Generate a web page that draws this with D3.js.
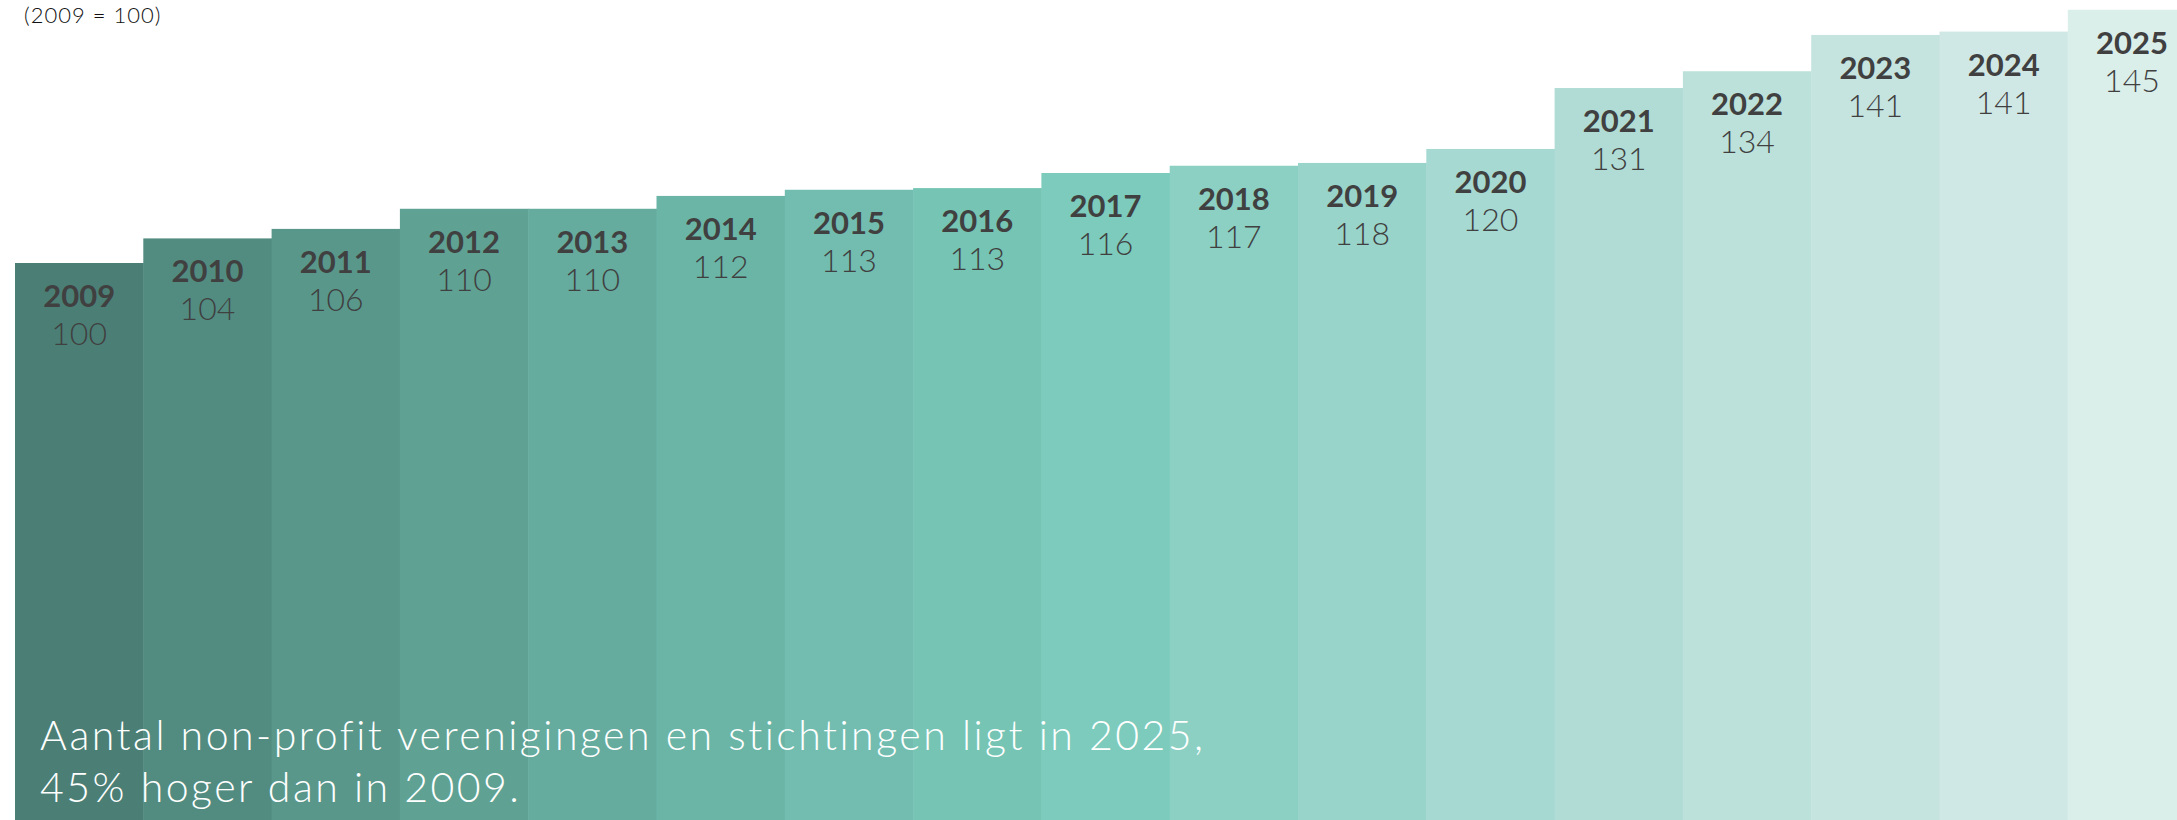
<!DOCTYPE html>
<html>
<head>
<meta charset="utf-8">
<script src="https://cdn.jsdelivr.net/npm/d3@7"></script>
<style>
  body { margin: 0; background: #fff; }
  svg { display: block; }
  .year { font-family: Lato, "Open Sans", sans-serif; font-weight: 700; fill: #404040; }
  .value { font-family: Lato, "Open Sans", sans-serif; font-weight: 300; fill: #404040; }
  .note { font-family: Lato, "Open Sans", sans-serif; font-weight: 300; fill: #fff; }
</style>
</head>
<body>
<div class="chart"></div>
<script>
// index, 2009 = 100 (labels are rounded)
const years = ["2009","2010","2011","2012","2013","2014","2015","2016","2017",
               "2018","2019","2020","2021","2022","2023","2024","2025"];
const indexValues = [100, 104.4, 106.1, 109.7, 109.7, 112.0, 113.1, 113.4, 116.1,
                     117.4, 117.9, 120.4, 131.3, 134.3, 140.8, 141.4, 145.3];
const barColors = ["#4b7f76","#528c81","#59978b","#5fa293","#65ab9e","#6bb5a7","#72bdb0",
                   "#75c4b4","#7ccbbc","#8bd0c3","#99d4ca","#a6d9d2","#b1dcd5","#bce1da",
                   "#c6e4df","#d0e8e5","#daeeea"];
const subtitle = "(2009 = 100)";
const noteLines = ["Aantal non-profit verenigingen en stichtingen ligt in 2025,",
                   "45% hoger dan in 2009."];

let width = 2177, height = 820;
let baseline = 822;

let svg = d3.select(".chart")
            .append("svg")
            .attr("width", width)
            .attr("height", height);

let x = d3.scaleBand()
          .domain(years)
          .range([15, 15 + 128.3 * years.length])
          .padding(0);

let y = d3.scaleLinear()
          .domain([0, 100])
          .range([baseline, baseline - 559]);

let data = years.map((yr, i) => ({year: yr, value: indexValues[i], color: barColors[i]}));

let bars = svg.append("g").attr("class", "bars");
bars.selectAll("rect")
    .data(data)
    .enter()
    .append("rect")
    .attr("x", d => x(d.year))
    .attr("y", d => y(d.value))
    .attr("width", x.bandwidth() + 0.5)
    .attr("height", d => baseline - y(d.value))
    .attr("fill", d => d.color);

let labels = svg.append("g").attr("class", "labels");
labels.selectAll("text.year")
      .data(data)
      .enter()
      .append("text")
      .attr("class", "year")
      .attr("x", d => x(d.year) + x.bandwidth() / 2)
      .attr("y", d => y(d.value) + 44)
      .attr("text-anchor", "middle")
      .style("font-size", "31px")
      .text(d => d.year);
labels.selectAll("text.value")
      .data(data)
      .enter()
      .append("text")
      .attr("class", "value")
      .attr("x", d => x(d.year) + x.bandwidth() / 2)
      .attr("y", d => y(d.value) + 82)
      .attr("text-anchor", "middle")
      .style("font-size", "32px")
      .text(d => d3.format(".0f")(d.value));

svg.append("text")
   .attr("x", 24)
   .attr("y", 23)
   .style("font-family", "Lato, sans-serif")
   .style("font-weight", 300)
   .style("font-size", "22px")
   .style("letter-spacing", "1px")
   .style("fill", "#111")
   .text(subtitle);

svg.append("g")
   .selectAll("text")
   .data(noteLines)
   .enter()
   .append("text")
   .attr("class", "note")
   .attr("x", 40)
   .attr("y", (d, i) => 750 + i * 52)
   .style("font-size", "41px")
   .style("letter-spacing", "2.5px")
   .text(d => d);
</script>
</body>
</html>
